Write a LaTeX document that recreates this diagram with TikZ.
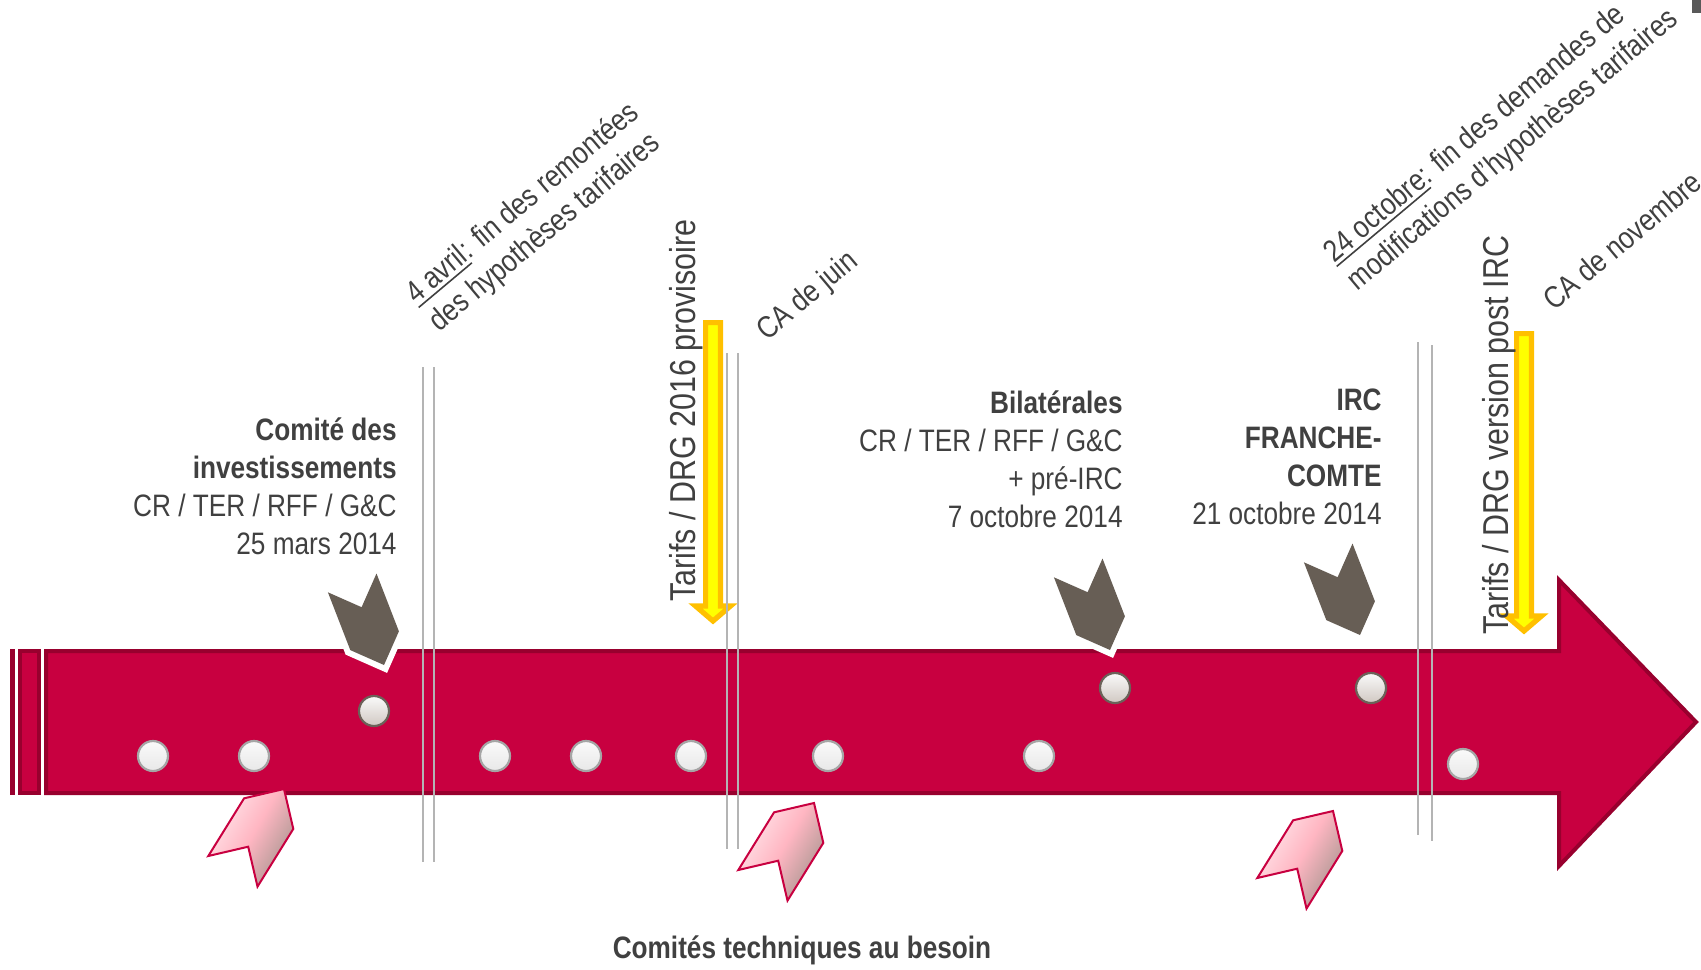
\documentclass[tikz,border=0pt]{standalone}
\usepackage{fontspec}
\setmainfont{Liberation Sans}[FakeStretch=0.845]
\definecolor{crimson}{RGB}{200,0,64}
\definecolor{crimsondark}{RGB}{152,0,46}
\definecolor{crowngray}{RGB}{103,94,85}
\definecolor{txt}{RGB}{64,64,64}
\definecolor{linegray}{RGB}{180,180,180}
\definecolor{ylw}{RGB}{255,255,0}
\definecolor{orng}{RGB}{255,192,0}
\definecolor{pinklight}{RGB}{255,230,235}
\definecolor{pinkmid}{RGB}{255,182,194}
\definecolor{pinkdark}{RGB}{168,150,144}
\definecolor{dotedge}{RGB}{165,165,165}
\definecolor{dotedgedark}{RGB}{107,98,89}
\newsavebox{\ulbox}
\newcommand{\ulwide}[1]{\sbox{\ulbox}{#1}\rlap{\rule[-2.4pt]{\wd\ulbox}{0.8pt}}\usebox{\ulbox}}
\begin{document}
\begin{tikzpicture}[x=0.5pt,y=-0.5pt,
  body/.style={fill=crimson, draw=crimsondark, line width=2pt, line join=miter},
  sep/.style={draw=linegray, line width=1pt},
  dot/.style={circle, minimum size=15pt, inner sep=0pt, draw=dotedge, line width=1.1pt, top color=white!96!gray, bottom color=white!82!gray},
  dotdark/.style={dot, draw=dotedgedark, top color=white!96!gray, bottom color={rgb,255:red,208;green,200;blue,194}},
  crown/.style={fill=crowngray, preaction={draw=white, line width=6pt, line join=miter}},
  pinkarrow/.style={draw=crimson, line width=1pt, line join=miter, left color=pinklight, right color=pinkdark, middle color=pinkmid, shading angle=60},
  yarrow/.style={fill=ylw, draw=orng, line width=2.6pt, line join=miter},
  lbl/.style={text=txt, font=\fontsize{15.5}{19}\selectfont, inner sep=0pt},
  lblb/.style={lbl, font=\fontsize{15.5}{19}\selectfont\bfseries},
  diag/.style={text=txt, font=\fontsize{15.4}{18.4}\selectfont, inner sep=0pt, rotate=40},
  vert/.style={text=txt, font=\fontsize{18}{22}\selectfont, inner sep=0pt, rotate=90, anchor=base west}]
\useasboundingbox (0,0) rectangle (1701,969);

% small mark at top right
\fill[black!65] (1692,0) rectangle (1701,13);

% timeline body
\fill[crimsondark] (10,649) rectangle (15,795);
\draw[body] (20,651) rectangle (39,793);
\draw[body] (46,651) -- (1559,651) -- (1559,580) -- (1696,722) -- (1559,866) -- (1559,793) -- (46,793) -- cycle;

% yellow arrows
\draw[yarrow] (705.6,322.6) -- (720.4,322.6) -- (720.4,606) -- (730.5,606) -- (713,621) -- (695.5,606) -- (705.6,606) -- cycle;
\draw[yarrow] (1516.6,333.6) -- (1531.4,333.6) -- (1531.4,616) -- (1541.5,616) -- (1524,631) -- (1506.5,616) -- (1516.6,616) -- cycle;

% separators
\draw[sep] (423,367) -- (423,862);
\draw[sep] (434,367) -- (434,862);
\draw[sep] (727,353) -- (727,849);
\draw[sep] (738,353) -- (738,849);
\draw[sep] (1418,342) -- (1418,835);
\draw[sep] (1432,345) -- (1432,841);

% crowns
\foreach \dx/\dy in {0/0, 726/-15, 976/-30}{
  \path[crown, shift={(\dx,\dy)}] (384,665) -- (398.9,631.3) -- (376.5,573.5) -- (361.6,607.2) -- (327.9,592.3) -- (350.3,650.1) -- cycle;
}

% pink chevrons
\foreach \dx/\dy in {0/0, 530/14, 1049/22}{
  \path[pinkarrow, shift={(\dx,\dy)}] (284,789) -- (293.3,828.9) -- (257.5,886.6) -- (248.2,846.7) -- (208.3,856) -- (244.1,798.3) -- cycle;
}

% dots
\node[dot] (d1) at (153,756) {};
\node[dot] (d2) at (254,756) {};
\node[dotdark] (d3) at (374,711) {};
\node[dot] (d4) at (495,756) {};
\node[dot] (d5) at (586,756) {};
\node[dot] (d6) at (691,756) {};
\node[dot] (d7) at (828,756) {};
\node[dot] (d8) at (1039,756) {};
\node[dotdark] (d9) at (1115,688) {};
\node[dotdark] (d10) at (1371,688) {};
\node[dot] (d11) at (1463,764) {};

% text blocks
\node[lbl, align=right, anchor=north east] (comite) at (397,413.4)
  {\strut\textbf{Comité des}\\\textbf{investissements}\\CR / TER / RFF / G\&C\\25 mars 2014};
\node[lbl, align=right, anchor=north east] (bilat) at (1123,386.4)
  {\strut\textbf{Bilatérales}\\CR / TER / RFF / G\&C\\+ pré-IRC\\7 octobre 2014};
\node[lbl, align=right, anchor=north east] (irc) at (1382,383.4)
  {\strut\textbf{IRC}\\\textbf{FRANCHE-}\\\textbf{COMTE}\\21 octobre 2014};
\node[lblb, anchor=base] (comtech) at (802,958) {Comités techniques au besoin};

% vertical labels
\node[vert] (tarif1) at (695,602) {Tarifs / DRG 2016 provisoire};
\node[vert] (tarif2) at (1508,635) {Tarifs / DRG version post IRC};

% diagonal labels
\node[diag, anchor=base west] (cajuin) at (767,342) {CA de juin};
\node[diag, anchor=base west] (canov) at (1554,312) {CA de novembre};
\node[diag, align=left, anchor=north west] (avril) at (399,284.6)
  {\strut\ulwide{4 avril}: fin des remontées\\des hypothèses tarifaires};
\node[diag, align=left, anchor=north west] (octobre) at (1317,243.6)
  {\strut\ulwide{24 octobre}: fin des demandes de\\modifications d’hypothèses tarifaires};
\end{tikzpicture}
\end{document}
